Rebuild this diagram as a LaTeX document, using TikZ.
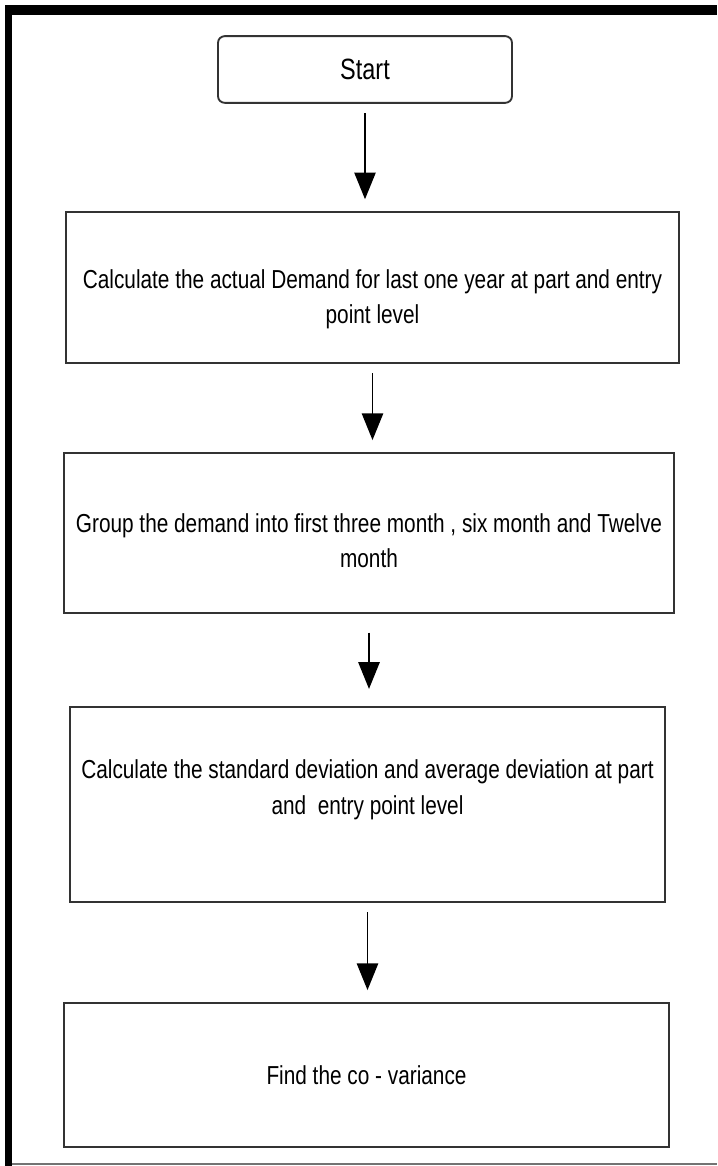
\documentclass[tikz,border=0pt]{standalone}
\usepackage{fontspec}
\setmainfont[FakeStretch=0.8]{Liberation Sans}
\usetikzlibrary{arrows.meta}

\begin{document}
\begin{tikzpicture}[x=0.75pt, y=-0.75pt,
    box/.style={draw=black!80, line width=1.4pt, align=center,
      font=\fontsize{19.5}{26.5}\selectfont, inner sep=0pt},
    startbox/.style={box, rounded corners=5pt, font=\fontsize{22}{26}\selectfont},
    stepbox/.style={box},
    flow/.style={-{Triangle[width=16pt, length=20pt]}, line width=1.1pt,
      shorten <=7pt, shorten >=9pt},
  ]
  \useasboundingbox (0,0) rectangle (717,1166);

  % frame
  \fill (5,5) rectangle (717,15);
  \fill (5,5) rectangle (12,1166);
  \draw[black!55, line width=1pt] (12,1164) -- (717,1164);

  \node[startbox, minimum width=220.5pt, minimum height=50pt] (start) at (365,69.5) {Start};
  \node[stepbox, minimum width=460pt, minimum height=113pt] (demand) at (372.5,287.5)
    {\rule{0pt}{32pt}Calculate the actual Demand for last one year at part and entry\\ point level};
  \node[stepbox, minimum width=457.5pt, minimum height=120pt] (group) at (369,533)
    {\rule{0pt}{26pt}Group the demand into first three month , six month and Twelve\\ month};
  \node[stepbox, minimum width=446pt, minimum height=146pt] (dev) at (367.5,804.5)
    {Calculate the standard deviation and average deviation at part\\ and\ \ entry point level\rule[-26pt]{0pt}{0pt}};
  \node[stepbox, minimum width=454pt, minimum height=108pt] (covar) at (366.5,1075)
    {Find the co - variance};

  \draw[flow] (start.south) -- (start.south |- demand.north);
  \draw[flow] (demand.south) -- (demand.south |- group.north);
  \draw[flow, shorten <=14pt, shorten >=13pt] (group.south) -- (group.south |- dev.north);
  \draw[flow] (dev.south) -- (dev.south |- covar.north);
\end{tikzpicture}
\end{document}
